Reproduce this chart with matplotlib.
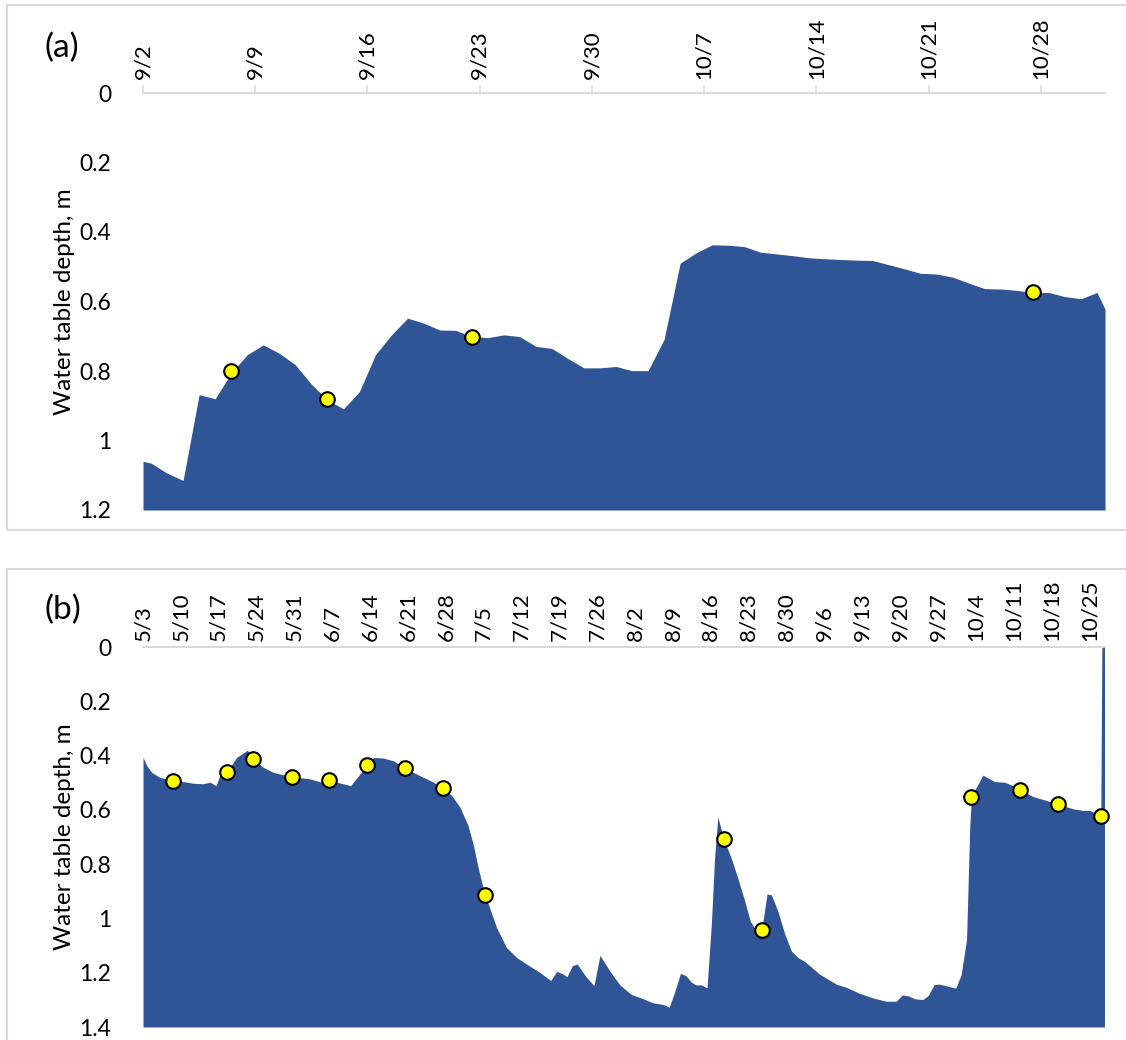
import matplotlib.pyplot as plt
from matplotlib.patches import Rectangle
import matplotlib.ticker as ticker

plt.rcParams['font.family'] = ['Lato', 'DejaVu Sans']

# ---- panel (a): days since 9/2 ----
days_a = [0, 0.5, 1.5, 2.5, 3.5, 4.5, 5.5, 6.5, 7.5, 8.5, 9.5, 10.5, 11.5, 12.5,
          13.5, 14.5, 15.5, 16.5, 17.5, 18.5, 19.5, 20.5, 21.5, 22.5, 23.5, 24.5,
          25.5, 26.5, 27.5, 28.5, 29.5, 30.5, 31.5, 32.5, 33.5, 34.5, 35.5, 36.5,
          37.5, 38.5, 39.5, 40.5, 41.5, 42.5, 43.5, 44.5, 45.5, 46.5, 47.5, 48.5,
          49.5, 50.5, 51.5, 52.5, 53.5, 54.5, 55.5, 56.5, 57.5, 58.5, 59.5, 60.0]
depth_a = [1.060, 1.065, 1.094, 1.115, 0.868, 0.880, 0.806, 0.753, 0.725, 0.749,
           0.782, 0.838, 0.883, 0.909, 0.859, 0.753, 0.696, 0.648, 0.662, 0.682,
           0.683, 0.701, 0.704, 0.696, 0.701, 0.729, 0.735, 0.764, 0.791, 0.791,
           0.787, 0.799, 0.799, 0.709, 0.490, 0.460, 0.437, 0.438, 0.442, 0.458,
           0.463, 0.468, 0.474, 0.477, 0.479, 0.481, 0.482, 0.494, 0.506, 0.519,
           0.521, 0.530, 0.547, 0.563, 0.564, 0.568, 0.574, 0.574, 0.586, 0.592,
           0.574, 0.622]
obs_days_a = [5.5, 11.5, 20.5, 55.5]
obs_depth_a = [0.800, 0.881, 0.701, 0.574]
ticks_a = [0, 7, 14, 21, 28, 35, 42, 49, 56]
labels_a = ['9/2', '9/9', '9/16', '9/23', '9/30', '10/7', '10/14', '10/21', '10/28']

# ---- panel (b): days since 5/3 ----
days_b = [0, 0.7, 1.6, 3.1, 5.5, 7.5, 9.3, 11.1, 12.4, 13.5, 14.2, 15.5, 17.3, 18.2,
          19.3, 20.4, 22.2, 24.1, 27.5, 30.9, 33.0, 34.4, 36.4, 38.4, 40.1, 41.5,
          42.6, 44.4, 46.3, 48.4, 50.6, 53.7, 55.4, 57.1, 58.6, 60.1, 61.1, 62.0,
          62.9, 63.3, 64.1, 65.4, 67.2, 69.1, 70.9, 73.4, 75.4, 76.5, 77.7, 78.4,
          79.4, 80.3, 82.0, 83.4, 84.5, 86.3, 88.2, 90.3, 92.5, 94.3, 96.2, 97.3,
          98.3, 99.4, 100.4, 101.4, 102.3, 103.3, 104.3, 105.1, 105.7, 106.3, 107.4,
          108.8, 110.0, 111.3, 112.3, 113.4, 114.4, 115.4, 116.2, 117.4, 118.7,
          119.9, 121.1, 122.4, 125.1, 128.2, 130.1, 132.5, 135.0, 137.4, 139.3,
          140.4, 141.5, 142.7, 144.2, 145.2, 146.3, 147.3, 148.9, 150.3, 151.3,
          152.3, 152.9, 153.2, 155.3, 157.5, 159.3, 160.9, 162.2, 164.6, 167.0,
          169.3, 172.0, 173.8, 175.1, 175.7, 177.2, 177.6, 177.8]
depth_b = [0.407, 0.437, 0.462, 0.480, 0.492, 0.496, 0.502, 0.504, 0.498, 0.511,
           0.474, 0.462, 0.407, 0.395, 0.380, 0.413, 0.443, 0.462, 0.478, 0.486,
           0.498, 0.490, 0.501, 0.511, 0.468, 0.434, 0.407, 0.409, 0.419, 0.447,
           0.468, 0.498, 0.520, 0.547, 0.590, 0.657, 0.730, 0.815, 0.888, 0.913,
           0.961, 1.034, 1.107, 1.144, 1.168, 1.199, 1.229, 1.195, 1.205, 1.215,
           1.174, 1.168, 1.217, 1.247, 1.136, 1.193, 1.245, 1.280, 1.296, 1.311,
           1.317, 1.327, 1.272, 1.202, 1.211, 1.235, 1.245, 1.245, 1.256, 1.022,
           0.779, 0.626, 0.708, 0.779, 0.852, 0.937, 1.010, 1.046, 1.044, 0.910,
           0.913, 0.973, 1.059, 1.120, 1.144, 1.159, 1.205, 1.242, 1.254, 1.276,
           1.293, 1.305, 1.305, 1.282, 1.285, 1.296, 1.299, 1.284, 1.244, 1.242,
           1.250, 1.257, 1.207, 1.077, 0.657, 0.551, 0.472, 0.496, 0.498, 0.511,
           0.526, 0.551, 0.565, 0.580, 0.596, 0.602, 0.602, 0.608, 0.622, 0.625,
           0.0]
obs_days_b = [5.5, 15.5, 20.4, 27.5, 34.4, 41.5, 48.4, 55.4, 63.3, 107.4, 114.4,
              153.2, 162.2, 169.3, 177.2]
obs_depth_b = [0.492, 0.462, 0.413, 0.478, 0.490, 0.434, 0.447, 0.520, 0.913,
               0.708, 1.044, 0.551, 0.526, 0.580, 0.622]
ticks_b = list(range(0, 176, 7))
labels_b = ['5/3', '5/10', '5/17', '5/24', '5/31', '6/7', '6/14', '6/21', '6/28',
            '7/5', '7/12', '7/19', '7/26', '8/2', '8/9', '8/16', '8/23', '8/30',
            '9/6', '9/13', '9/20', '9/27', '10/4', '10/11', '10/18', '10/25']

fill_color = '#2F5597'
grid_gray = '#D9D9D9'

W, H = 1126, 1040
fig = plt.figure(figsize=(W / 100, H / 100), dpi=100)

# panel frames
fig.add_artist(Rectangle((7 / W, 1 - 530 / H), 1.0, 525 / H, transform=fig.transFigure,
                         fill=False, edgecolor=grid_gray, lw=1.5))
fig.add_artist(Rectangle((7 / W, -0.05), 1.0, 0.05 + 1 - 569 / H, transform=fig.transFigure,
                         fill=False, edgecolor=grid_gray, lw=1.5))

ax_a = fig.add_axes([143 / W, 1 - 510 / H, 962 / W, 417 / H])
ax_b = fig.add_axes([143 / W, 1 - 1027 / H, 962 / W, 380 / H])


def style(ax, days, depth, obs_x, obs_y, ticks, labels, xmax, ymax, tick_len):
    ax.fill_between(days, depth, ymax, color=fill_color, lw=0)
    ax.plot(obs_x, obs_y, 'o', color='#FFFF00', markeredgecolor='black',
            markeredgewidth=1.5, markersize=10.5, zorder=5, clip_on=False)
    ax.set_xlim(0, xmax)
    ax.set_ylim(ymax, 0)
    ax.xaxis.tick_top()
    ax.set_xticks(ticks)
    ax.set_xticklabels(labels, rotation=90, fontsize=16)
    ax.tick_params(axis='x', length=tick_len, color=grid_gray, width=1.2, pad=4)
    ax.set_yticks([i * 0.2 for i in range(int(round(ymax / 0.2)) + 1)])
    ax.yaxis.set_major_formatter(ticker.FuncFormatter(lambda v, p: f'{v:g}'))
    ax.tick_params(axis='y', length=0, pad=23, labelsize=16.5)
    for s in ['left', 'right', 'bottom']:
        ax.spines[s].set_visible(False)
    ax.spines['top'].set_color(grid_gray)
    ax.spines['top'].set_linewidth(1.5)
    ax.set_ylabel('Water table depth, m', fontsize=17.5, labelpad=3)
    ax.patch.set_alpha(0)


style(ax_a, days_a, depth_a, obs_days_a, obs_depth_a, ticks_a, labels_a, 60, 1.2, 6)
style(ax_b, days_b, depth_b, obs_days_b, obs_depth_b, ticks_b, labels_b, 177.9, 1.4, 0)
# final reading drops to 0 -> vertical edge at the right
ax_b.plot(days_b[-2:], depth_b[-2:], color=fill_color, lw=3, solid_capstyle='butt')

fig.text(44 / W, 1 - 48 / H, '(a)', fontsize=24, va='center', ha='left')
fig.text(44 / W, 1 - 610 / H, '(b)', fontsize=24, va='center', ha='left')

plt.savefig('out.png', dpi=100, facecolor='white')
